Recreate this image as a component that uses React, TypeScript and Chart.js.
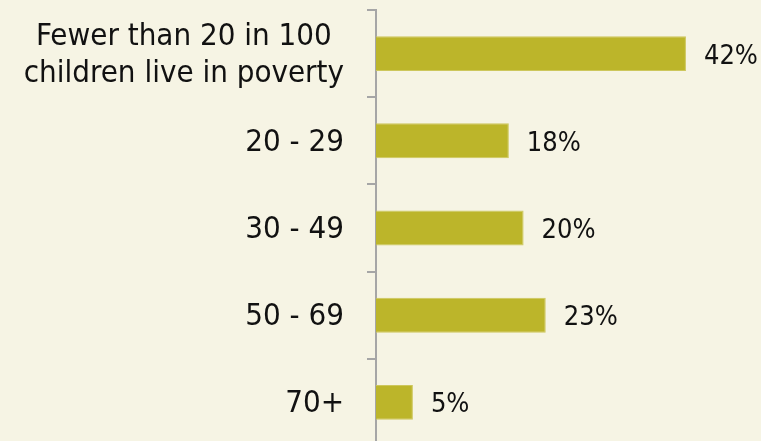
import React, { useEffect, useRef } from "react";
import { Chart, registerables } from "chart.js";

Chart.register(...registerables);

const categories: string[][] = [
  ["Fewer than 20 in 100", "children live in poverty"],
  ["20 - 29"],
  ["30 - 49"],
  ["50 - 69"],
  ["70+"],
];
const values: number[] = [42, 18, 20, 23, 5];
const valueSuffix = "%";

const FONT_FAMILY = "'DejaVu Sans Condensed', 'DejaVu Sans', sans-serif";
const LABEL_SIZE = 31;
const LABEL_LINE = 37;
const LABEL_RIGHT = 344;

const categoryLabelPlugin = {
  id: "categoryLabels",
  afterDraw(chart: any) {
    const ctx = chart.ctx;
    const yScale = chart.scales.y;
    ctx.save();
    ctx.font = `${LABEL_SIZE}px ${FONT_FAMILY}`;
    ctx.fillStyle = "#111111";
    ctx.textAlign = "center";
    ctx.textBaseline = "middle";
    categories.forEach((lines, i) => {
      const cy = yScale.getPixelForValue(i);
      const blockW = Math.max(...lines.map((l) => ctx.measureText(l).width));
      const cx = LABEL_RIGHT - blockW / 2;
      lines.forEach((line, j) => {
        const y = cy + (j - (lines.length - 1) / 2) * LABEL_LINE + 2;
        ctx.fillText(line, cx, y);
      });
    });
    ctx.restore();
  },
};

const dataLabelPlugin = {
  id: "dataLabels",
  afterDatasetsDraw(chart: any) {
    const ctx = chart.ctx;
    const meta = chart.getDatasetMeta(0);
    ctx.save();
    ctx.font = `27px ${FONT_FAMILY}`;
    ctx.fillStyle = "#111111";
    ctx.textAlign = "left";
    ctx.textBaseline = "middle";
    meta.data.forEach((bar: any, i: number) => {
      const v = chart.data.datasets[0].data[i];
      ctx.fillText(`${v}${valueSuffix}`, bar.x + 18, bar.y + 3);
    });
    ctx.restore();
  },
};

export default function App() {
  const ref = useRef<HTMLCanvasElement | null>(null);
  useEffect(() => {
    if (!ref.current) return;
    const chart = new Chart(ref.current, {
      type: "bar",
      data: {
        labels: categories.map((c) => c.join(" ")),
        datasets: [
          {
            data: values,
            backgroundColor: "#bcb52a",
            borderColor: "#cdc75c",
            borderWidth: 1,
            barPercentage: 0.4,
            categoryPercentage: 1.0,
          },
        ],
      },
      options: {
        indexAxis: "y",
        animation: false,
        responsive: false,
        maintainAspectRatio: false,
        layout: { padding: { top: 10, right: 16, bottom: 0, left: 0 } },
        plugins: {
          legend: { display: false },
          tooltip: { enabled: false },
        },
        scales: {
          x: { display: false, min: 0, max: 50 },
          y: {
            position: "left",
            afterFit: (scale: any) => {
              scale.width = 376;
              scale.paddingTop = 0;
              scale.paddingBottom = 0;
            },
            grid: {
              drawOnChartArea: false,
              drawTicks: true,
              tickLength: 9,
              color: "#a6a6a6",
              lineWidth: 2,
              offset: true,
            },
            border: { color: "#a6a6a6", width: 2 },
            ticks: { display: false },
          },
        },
      },
      plugins: [dataLabelPlugin, categoryLabelPlugin],
    });
    return () => chart.destroy();
  }, []);

  return (
    <div
      style={{
        position: "absolute",
        left: 0,
        top: 0,
        width: 761,
        height: 441,
        overflow: "hidden",
        background: "#f6f4e4",
      }}
    >
      <canvas ref={ref} width={761} height={446} style={{ display: "block" }} />
    </div>
  );
}
